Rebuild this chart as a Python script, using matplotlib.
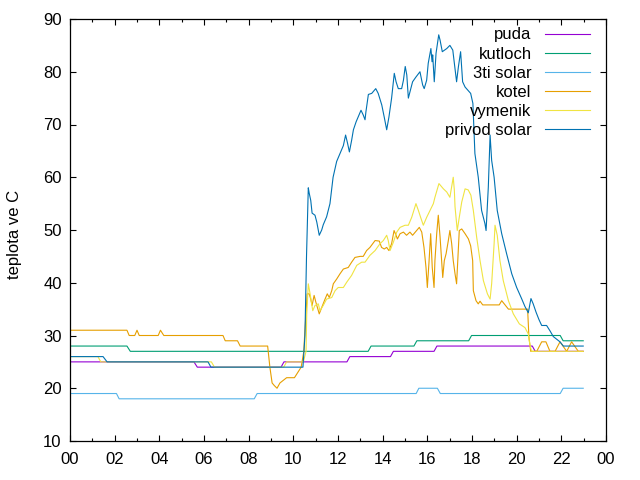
import matplotlib
matplotlib.use("Agg")
import matplotlib.pyplot as plt
from matplotlib.ticker import MultipleLocator, FuncFormatter

plt.rcParams['font.family'] = ['Liberation Sans', 'DejaVu Sans']

# ---- data (time in hours, value in deg C) ----
puda_t = [0, 5.55, 5.7, 9.45, 9.58, 12.4, 12.53, 14.35, 14.48, 16.3, 16.43, 20.7, 20.83, 22.98]
puda_v = [25, 25, 24, 24, 25, 25, 26, 26, 27, 27, 28, 28, 27, 27]

kutloch_t = [0, 2.55, 2.7, 13.35, 13.48, 15.4, 15.53, 17.85, 17.98, 21.95, 22.08, 22.98]
kutloch_v = [28, 28, 27, 27, 28, 28, 29, 29, 30, 30, 29, 29]

solar3_t = [0, 2.08, 2.2, 8.25, 8.38, 15.5, 15.62, 16.45, 16.58, 21.95, 22.08, 22.98]
solar3_v = [19, 19, 18, 18, 19, 19, 20, 20, 19, 19, 20, 20]

kotel_t = [0, 2.55, 2.65, 2.9, 3.0, 3.1, 3.95, 4.05, 4.2, 6.85, 6.95, 7.5, 7.62, 8.85,
           8.95, 9.05, 9.15, 9.27, 9.4, 9.7, 10.05, 10.2, 10.35, 10.47, 10.5, 10.62,
           10.71, 10.78, 10.84, 10.93, 11.01, 11.16, 11.27, 11.42, 11.52, 11.61, 11.72,
           11.79, 11.94, 12.09, 12.24, 12.46, 12.61, 12.76, 12.99, 13.13, 13.28, 13.43,
           13.66, 13.85, 13.95, 14.07, 14.18, 14.28, 14.40, 14.51, 14.60, 14.66, 14.78,
           14.93, 15.07, 15.22, 15.34, 15.52, 15.64, 15.75, 15.85, 15.94, 16.0, 16.07,
           16.15, 16.22, 16.30, 16.34, 16.42, 16.49, 16.57, 16.64, 16.69, 16.76, 16.84,
           16.94, 17.01, 17.09, 17.16, 17.24, 17.31, 17.37, 17.43, 17.54, 17.69, 17.84,
           17.94, 18.03, 18.06, 18.18, 18.28, 18.36, 18.48, 19.22, 19.33, 19.48, 19.63,
           20.49, 20.55, 20.63, 20.9, 21.12, 21.31, 21.49, 21.72, 21.94, 22.24, 22.46,
           22.76, 22.98]
kotel_v = [31, 31, 30, 30, 31, 30, 30, 31, 30, 30, 29, 29, 28, 28,
           24, 21, 20.5, 20, 21, 22, 22, 23, 24, 27, 29.6, 37.9,
           37.9, 36.9, 35.7, 37.6, 36.3, 34.1, 35.3, 36.9, 37.9, 37.2, 38.5,
           39.8, 40.7, 41.7, 42.6, 42.9, 43.9, 44.8, 45, 45, 46.1, 46.7,
           48, 47.9, 46.7, 46.4, 46.7, 46.1, 47.4, 49.9, 49, 48.3, 49.3,
           49.6, 49, 49.6, 49, 49.9, 50.5, 49.6, 46.7, 42.9, 39.1, 43.6,
           49.3, 42.9, 39.1, 44.2, 49.3, 52.8, 48.7, 44.2, 41, 44.2, 45.5,
           48, 49.9, 47.4, 44.2, 41.7, 39.8, 44.8, 49.9, 50.2, 49.3, 48.3,
           47, 44.2, 38.5, 36.6, 36, 36.5, 35.8, 35.8, 36.6, 35.8, 35,
           35, 29.6, 27, 27, 28.8, 28.8, 27, 27, 28.8, 27, 28.8,
           27, 27]

vymenik_t = [0, 1.25, 1.38, 6.33, 6.47, 9.57, 9.7, 10.45, 10.57, 10.6, 10.67, 10.75,
             10.82, 10.87, 10.97, 11.12, 11.19, 11.34, 11.49, 11.72, 11.87, 12.01, 12.24,
             12.39, 12.61, 12.84, 13.06, 13.21, 13.43, 13.66, 13.88, 14.03, 14.18, 14.25,
             14.33, 14.48, 14.63, 14.78, 15.0, 15.15, 15.30, 15.49, 15.60, 15.70, 15.82,
             15.97, 16.12, 16.27, 16.34, 16.52, 16.72, 16.87, 17.01, 17.16, 17.21, 17.24,
             17.34, 17.43, 17.54, 17.69, 17.83, 17.95, 18.06, 18.21, 18.36, 18.51, 18.69,
             18.81, 18.88, 18.99, 19.03, 19.13, 19.25, 19.40, 19.63, 19.85, 20.12, 20.37,
             20.52, 20.6, 20.67, 22.98]
vymenik_v = [26, 26, 25, 25, 24, 24, 25, 25, 27, 34, 39.8, 37.9,
             36, 34.7, 35.7, 36, 34.7, 35.7, 36.9, 37.2, 38.5, 39.1, 39.1,
             40.1, 41.4, 43.3, 43.9, 43.9, 45.2, 46.1, 47.4, 48, 49, 48,
             46.1, 47.7, 49.6, 50.5, 50.9, 50.9, 52.4, 55, 53.7, 52.4, 50.9,
             52.4, 53.7, 55, 56.2, 58.8, 57.8, 57.2, 56.2, 60, 57.5, 54.4,
             49.9, 52.4, 55.3, 57.8, 57.6, 56.6, 53.7, 48.6, 44.2, 40.4, 37.9,
             36.9, 39.8, 47.4, 50.9, 49, 44.2, 40.4, 36.6, 34.1, 32.2, 31.5,
             30.3, 28.1, 27, 27]

privod_t = [0, 1.48, 1.66, 6.18, 6.31, 10.43, 10.52, 10.59, 10.67, 10.71, 10.78, 10.84,
            10.97, 11.05, 11.16, 11.27, 11.34, 11.49, 11.64, 11.78, 11.94, 12.09, 12.24,
            12.34, 12.43, 12.51, 12.61, 12.69, 12.81, 12.94, 13.03, 13.13, 13.21, 13.25,
            13.36, 13.51, 13.69, 13.80, 13.96, 14.07, 14.18, 14.28, 14.40, 14.52, 14.60,
            14.70, 14.85, 14.93, 15.01, 15.08, 15.15, 15.26, 15.34, 15.49, 15.67, 15.79,
            15.86, 15.97, 16.04, 16.16, 16.21, 16.24, 16.31, 16.39, 16.51, 16.57, 16.67,
            16.87, 17.01, 17.14, 17.21, 17.31, 17.39, 17.49, 17.58, 17.69, 17.94, 18.04,
            18.13, 18.28, 18.43, 18.58, 18.63, 18.73, 18.81, 18.88, 18.99, 19.13, 19.33,
            19.55, 19.78, 20.0, 20.22, 20.37, 20.52, 20.64, 20.74, 20.87, 21.0, 21.12,
            21.34, 21.49, 21.64, 21.94, 22.09, 22.98]
privod_v = [26, 26, 25, 25, 24, 24, 30, 45, 58, 57, 55.6, 53.2,
            52.8, 51.5, 49, 50, 51, 52.5, 55, 60, 63, 64.5, 66,
            68, 66.4, 64.8, 67, 69, 70.5, 71.8, 72.7, 71.8, 70.9, 72.4,
            75.7, 75.9, 76.8, 75.9, 73.7, 71.4, 69, 71.4, 75, 79.7, 78.1,
            76.8, 76.8, 78.4, 81, 79.4, 75, 76.8, 78.1, 79, 80, 77.5,
            76.8, 78.4, 81.6, 84.4, 81.9, 83.2, 78.1, 83.5, 87, 86, 83.8,
            84.4, 85, 84.1, 81.6, 78.1, 80.9, 83.8, 78.1, 77.1, 75.9, 74,
            64.5, 60, 53.7, 51.2, 49.9, 58.1, 68, 63.2, 60, 53.7, 49.3,
            45.5, 41.7, 39.1, 37, 35.5, 34.3, 37, 36, 34.4, 33, 31.9,
            31.9, 30.9, 29.8, 28.8, 28, 28]

labels = ["puda", "kutloch", "3ti solar", "kotel", "vymenik", "privod solar"]
colors = ["#9400d3", "#009e73", "#56b4e9", "#e69f00", "#f0e442", "#0072b2"]
series = [(puda_t, puda_v), (kutloch_t, kutloch_v), (solar3_t, solar3_v),
          (kotel_t, kotel_v), (vymenik_t, vymenik_v), (privod_t, privod_v)]

fig = plt.figure(figsize=(6.4, 4.8), dpi=100)
ax = fig.add_axes([70/640, 1-441/480, 536/640, 422/480])

for (t, v), lab, c in zip(series, labels, colors):
    ax.plot(t, v, color=c, lw=0.8, label=lab)

ax.set_xlim(0, 24)
ax.set_ylim(10, 90)
ax.xaxis.set_major_locator(MultipleLocator(2))
ax.xaxis.set_minor_locator(MultipleLocator(1))
ax.yaxis.set_major_locator(MultipleLocator(10))
ax.xaxis.set_major_formatter(FuncFormatter(lambda x, p: "%02d" % (int(round(x)) % 24)))

ax.tick_params(which='both', direction='in', top=True, right=True, labelsize=12, width=0.8)
ax.tick_params(which='major', length=4.5)
ax.tick_params(which='minor', length=2.5)
ax.tick_params(axis='x', pad=8)
ax.tick_params(axis='y', pad=6)
for s in ax.spines.values():
    s.set_linewidth(0.9)

ax.set_ylabel("teplota ve C", fontsize=12)
ax.yaxis.set_label_coords(-0.09, 0.49)

leg = ax.legend(loc='upper right', bbox_to_anchor=(0.97, 0.98), frameon=False,
                markerfirst=False, fontsize=12, handlelength=2.7, handletextpad=0.8,
                labelspacing=0.25, borderpad=0, borderaxespad=0)

fig.savefig("out.png", dpi=100)
